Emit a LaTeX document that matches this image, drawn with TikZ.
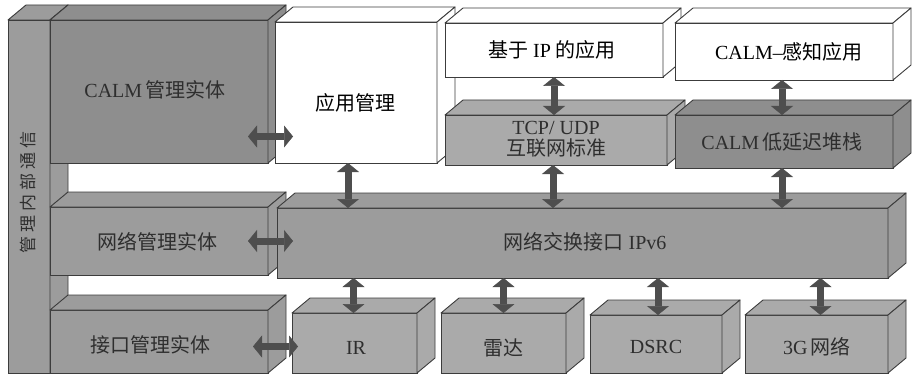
\documentclass[tikz,border=0pt]{standalone}
\usepackage{fontspec}
\setmainfont{Liberation Serif}
\newfontfamily\cjk{Noto Sans CJK SC}
\newcommand\zh[1]{{\cjk #1}}
\usetikzlibrary{arrows.meta}
\definecolor{gdark}{HTML}{8E8E8E}
\definecolor{gmid}{HTML}{9C9C9C}
\definecolor{glight}{HTML}{AAAAAA}
\definecolor{edgec}{HTML}{3C3C3C}
\definecolor{textc}{HTML}{2E2E2E}
\definecolor{arrowc}{HTML}{4E4E4E}
\tikzset{
  boxfront/.style={draw=edgec, line width=0.9pt, rectangle, inner sep=0pt, outer sep=0pt},
  boxedge/.style={draw=edgec, line width=0.9pt, line join=round},
  lbl/.style={text=textc, inner sep=0pt, font=\fontsize{20}{23}\selectfont},
  biarrow/.style={draw=arrowc, line width=7pt,
    arrows={Triangle[width=22pt,length=9pt,line width=0.5pt]-Triangle[width=22pt,length=9pt,line width=0.5pt]}},
}
\newcommand\mkbox[6]{%
  \node[boxfront, fill=#6, minimum width={(#4-#2)*1pt}, minimum height={(#5-#3)*1pt}] (#1) at ({(#2+#4)/2},{(#3+#5)/2}) {};
  \filldraw[boxedge, fill=#6] (#1.north west) -- ++(18,-15) -- ([shift={(18,-15)}]#1.north east) -- (#1.north east) -- cycle;
  \filldraw[boxedge, fill=#6] (#1.north east) -- ++(18,-15) -- ([shift={(18,-15)}]#1.south east) -- (#1.south east) -- cycle;
}
\begin{document}
\begin{tikzpicture}[x=1pt,y=-1pt]
\useasboundingbox (0,0) rectangle (912,377);
% boxes
\mkbox{bar}{8}{20}{50}{373}{gmid}
\mkbox{calm}{50}{20}{268}{163}{gdark}
\mkbox{netm}{50}{207}{268}{275}{gmid}
\mkbox{ifm}{50}{310}{268}{373}{gmid}
\mkbox{app}{275}{22}{437}{163}{white}
\mkbox{ip}{445}{23}{663}{77}{white}
\mkbox{capp}{675}{23}{893}{80}{white}
\mkbox{tcp}{445}{115}{667}{165}{glight}
\mkbox{stack}{675}{115}{893}{168}{gdark}
\mkbox{net}{277}{208}{888}{278}{gmid}
\mkbox{ir}{292}{313}{417}{373}{glight}
\mkbox{radar}{441}{313}{566}{373}{glight}
\mkbox{dsrc}{590}{315}{722}{373}{glight}
\mkbox{gthree}{745}{315}{888}{373}{glight}
% labels
\node[lbl, rotate=90, font=\fontsize{17}{20}\selectfont] (bart) at (28,192) {\zh{管\hspace{4pt}理\hspace{4pt}内\hspace{4pt}部\hspace{4pt}通\hspace{4pt}信}};
\node[lbl] (calmt) at (155,90) {CALM\,\zh{管理实体}};
\node[lbl] (netmt) at (157,242) {\zh{网络管理实体}};
\node[lbl] (ifmt) at (150,345) {\zh{接口管理实体}};
\node[lbl, text=black] (appt) at (355,103) {\zh{应用管理}};
\node[lbl, text=black] (ipt) at (552,50) {\zh{基于} IP \zh{的应用}};
\node[lbl, text=black] (cappt) at (789,52) {CALM--\zh{感知应用}};
\node[lbl, align=center] (tcpt) at (556,139) {TCP/ UDP\\[-2pt]\zh{互联网标准}};
\node[lbl] (stackt) at (782,142) {CALM\,\zh{低延迟堆栈}};
\node[lbl] (nett) at (585,242) {\zh{网络交换接口} IPv6};
\node[lbl] (irt) at (356,348) {IR};
\node[lbl] (radart) at (503,348) {\zh{雷达}};
\node[lbl] (dsrct) at (656,347) {DSRC};
\node[lbl] (gthreet) at (817,347) {3G\,\zh{网络}};
% arrows
\draw[biarrow] ([shift={(-20,45)}]calm.east) -- ([shift={(18,45)}]calm.east -| app.west);
\draw[biarrow] ([xshift=-20pt]netm.east) -- ([xshift=16pt]netm.east -| net.west);
\draw[biarrow] ([shift={(-15,5)}]ifm.east) -- ([shift={(6,5)}]ifm.east -| ir.west);
\draw[biarrow] ([xshift=-8pt]app.south) -- ([xshift=-8pt]app.south |- net.north);
\draw[biarrow] (ip.south) -- (ip.south |- tcp.north);
\draw[biarrow] ([xshift=-3pt]tcp.south) -- ([xshift=-3pt]tcp.south |- net.north);
\draw[biarrow] ([xshift=-2pt]capp.south) -- ([xshift=-2pt]capp.south |- stack.north);
\draw[biarrow] ([xshift=-2pt]stack.south) -- ([xshift=-2pt]stack.south |- net.north);
\draw[biarrow] ([xshift=-1pt]ir.north |- net.south) -- ([xshift=-1pt]ir.north);
\draw[biarrow] (radar.north |- net.south) -- (radar.north);
\draw[biarrow] ([xshift=2pt]dsrc.north |- net.south) -- ([xshift=2pt]dsrc.north);
\draw[biarrow] ([xshift=4pt]gthree.north |- net.south) -- ([xshift=4pt]gthree.north);
\end{tikzpicture}
\end{document}
